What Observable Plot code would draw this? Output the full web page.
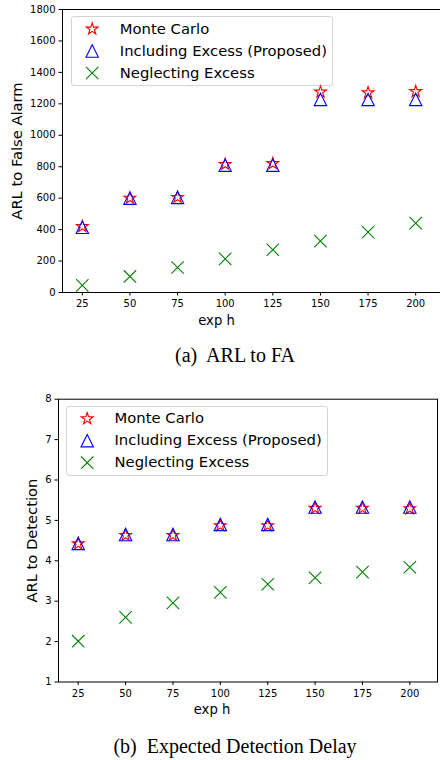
<!DOCTYPE html>
<html><head><meta charset="utf-8">
<script src="https://cdn.jsdelivr.net/npm/d3@7"></script>
<script src="https://cdn.jsdelivr.net/npm/@observablehq/plot@0.6"></script>
<style>
body{margin:0;background:#fff;overflow:hidden}
#wrap{position:relative;width:440px;height:760px;overflow:hidden;background:#fff}
.panel{position:absolute;left:0;z-index:1}
.cap{position:absolute;left:15px;width:440px;text-align:center;font-family:"Liberation Serif","DejaVu Serif",serif;font-size:20px;color:#000;line-height:20px;white-space:pre}
.legbox{position:absolute;border:1px solid #d4d4d4;border-radius:3px;background:#fff;box-sizing:border-box;z-index:0}
</style></head>
<body><div id="wrap"></div>
<script>
// ---- data ----
const expH = [25, 50, 75, 100, 125, 150, 175, 200];
const xTicks = [25, 50, 75, 100, 125, 150, 175, 200];
const faMonteCarlo = [420, 600, 605, 815, 820, 1275, 1270, 1278];
const faIncluding = [415, 600, 605, 810, 810, 1228, 1228, 1228];
const faNeglecting = [45, 102, 159, 214, 272, 327, 384, 441];
const ddMonteCarlo = [4.42, 4.63, 4.63, 4.87, 4.87, 5.30, 5.30, 5.29];
const ddIncluding = [4.43, 4.65, 4.65, 4.90, 4.90, 5.33, 5.33, 5.33];
const ddNeglecting = [2.01, 2.60, 2.96, 3.22, 3.42, 3.58, 3.72, 3.84];
const faYTicks = [0, 200, 400, 600, 800, 1000, 1200, 1400, 1600, 1800];
const ddYTicks = [1, 2, 3, 4, 5, 6, 7, 8];
const seriesNames = ["Monte Carlo", "Including Excess (Proposed)", "Neglecting Excess"];
const seriesColors = ["#ff0000", "#0000ff", "#008000"];
const xLabel = "exp h";
const yLabels = ["ARL to False Alarm", "ARL to Detection"];
const captions = ["(a)  ARL to FA", "(b)  Expected Detection Delay"];

// ---- matplotlib-like marker shapes ----
const mplStar = {draw(ctx, size) {
  const R = Math.sqrt(size) / 2, r = R * 0.381966;
  for (let i = 0; i < 10; i++) {
    const a = Math.PI / 2 + i * Math.PI / 5, rr = i % 2 ? r : R;
    const x = rr * Math.cos(a), y = -rr * Math.sin(a);
    if (i) ctx.lineTo(x, y); else ctx.moveTo(x, y);
  }
  ctx.closePath();
}};
const mplTriangle = {draw(ctx, size) {
  const h = Math.sqrt(size) / 2;
  ctx.moveTo(0, -h); ctx.lineTo(-h, h); ctx.lineTo(h, h); ctx.closePath();
}};
const mplTimes = {draw(ctx, size) {
  const h = Math.sqrt(size) / 2;
  ctx.moveTo(-h, -h); ctx.lineTo(h, h); ctx.moveTo(-h, h); ctx.lineTo(h, -h);
}};
const symbols = [mplStar, mplTriangle, mplTimes];
const R = 7.0;

const wrap = document.getElementById("wrap");

function panel(cfg) {
  const series = [cfg.mc, cfg.inc, cfg.neg];
  const marks = [];
  series.forEach((vals, i) => {
    const data = expH.map((h, j) => ({h, v: vals[j]}));
    marks.push(Plot.dot(data, {x: "h", y: "v", symbol: symbols[i], r: R, stroke: seriesColors[i], strokeWidth: 1.1, fill: "none"}));
  });
  marks.push(Plot.frame({stroke: "#000", strokeWidth: 1}));
  marks.push(Plot.axisX({ticks: xTicks, tickSize: 3.5, tickPadding: 4, fontSize: 10, label: null, tickFormat: d => String(d)}));
  marks.push(Plot.axisY({ticks: cfg.yTicks, tickSize: 3.5, tickPadding: 3.5, fontSize: 10, label: null, tickFormat: d => String(d)}));
  marks.push(Plot.text([cfg.yLabel], {frameAnchor: "left", rotate: -90, dx: cfg.yLabelDx, textAnchor: "middle", lineAnchor: "middle", fontSize: 14.7, fill: "#000"}));
  marks.push(Plot.text([xLabel], {frameAnchor: "bottom", dx: cfg.xLabelDx, dy: 28, textAnchor: "middle", lineAnchor: "middle", fontSize: 13.2, fill: "#000"}));
  // legend entries
  seriesNames.forEach((name, i) => {
    marks.push(Plot.dot([name], {frameAnchor: "top-left", dx: cfg.legMarkX, dy: 19.5 + 22 * i, symbol: symbols[i], r: R, stroke: seriesColors[i], strokeWidth: 1.1, fill: "none"}));
    marks.push(Plot.text([name], {frameAnchor: "top-left", dx: cfg.legTextX, dy: 19.5 + 22 * i, text: d => d, textAnchor: "start", lineAnchor: "middle", fontSize: 14.8, fill: "#000"}));
  });
  const svg = Plot.plot({
    width: cfg.width, height: cfg.height,
    marginTop: cfg.mt, marginBottom: cfg.mb, marginLeft: cfg.ml, marginRight: cfg.mr,
    x: {domain: [14.6, 214.6]},
    y: {domain: cfg.yDomain},
    style: {fontFamily: "DejaVu Sans", fontSize: "10px", color: "#000", background: "transparent", overflow: "visible"},
    marks
  });
  svg.classList.add("panel");
  svg.style.top = cfg.top + "px";
  svg.style.maxWidth = "none";
  wrap.appendChild(svg);
  const box = document.createElement("div");
  box.className = "legbox";
  box.style.left = (cfg.ml + cfg.legBox[0]) + "px";
  box.style.top = (cfg.top + cfg.mt + cfg.legBox[1]) + "px";
  box.style.width = cfg.legBox[2] + "px";
  box.style.height = cfg.legBox[3] + "px";
  wrap.appendChild(box);
  const cap = document.createElement("div");
  cap.className = "cap";
  cap.textContent = cfg.caption;
  cap.style.top = (cfg.capY - 10) + "px";
  wrap.appendChild(cap);
}

panel({top: 0, width: 446, height: 340, mt: 9, mb: 48, ml: 62, mr: 3,
  yDomain: [0, 1800], yTicks: faYTicks, mc: faMonteCarlo, inc: faIncluding, neg: faNeglecting,
  yLabel: yLabels[0], yLabelDx: -45, xLabelDx: -36.5, legMarkX: 29.7, legTextX: 57.3, legBox: [8.7, 7, 262, 70],
  caption: captions[0], capY: 355});
panel({top: 370, width: 440, height: 350, mt: 28.7, mb: 38.5, ml: 58, mr: 3,
  yDomain: [1, 8], yTicks: ddYTicks, mc: ddMonteCarlo, inc: ddIncluding, neg: ddNeglecting,
  yLabel: yLabels[1], yLabelDx: -26, xLabelDx: -36, legMarkX: 28.7, legTextX: 56, legBox: [8, 7.3, 262, 70],
  caption: captions[1], capY: 746});
</script>
</body></html>
